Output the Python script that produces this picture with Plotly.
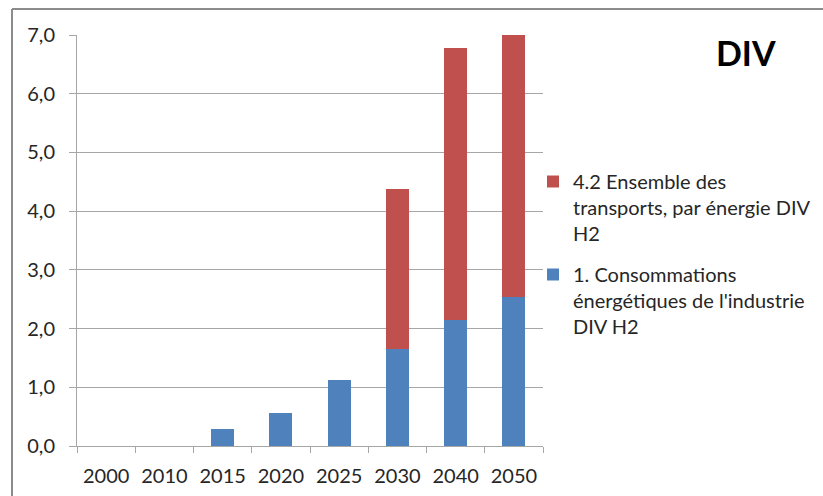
import plotly.graph_objects as go

# Hydrogen (DIV H2) consumption by sector
years = ["2000", "2010", "2015", "2020", "2025", "2030", "2040", "2050"]
industrie = [0, 0, 0.29, 0.57, 1.12, 1.66, 2.15, 2.53]
transports = [0, 0, 0, 0, 0, 2.72, 4.63, 4.47]

name_industrie = "1. Consommations<br>énergétiques de l'industrie<br>DIV H2"
name_transports = "4.2 Ensemble des<br>transports, par énergie DIV<br>H2"

BLUE = "#4F81BD"
RED = "#C0504D"
GRID = "#a6a6a6"
TEXT = "#262626"
FONT = "Lato"

fig = go.Figure()
fig.add_trace(go.Bar(x=years, y=industrie, name=name_industrie,
                     legendgroup="industrie", legendrank=2,
                     marker=dict(color=BLUE, line=dict(width=0))))
fig.add_trace(go.Bar(x=years, y=transports, name=name_transports,
                     legendgroup="transports", legendrank=1,
                     marker=dict(color=RED, line=dict(width=0))))

# plot area in pixels: x 77..543, y 35..446
L, R, T, B = 77, 823 - 543, 35, 496 - 446
W, H = 823 - L - R, 496 - T - B

def px(x):
    return (x - L) / W

def py(y):
    return (496 - B - y) / H

fig.update_layout(
    width=823, height=496,
    margin=dict(l=L, r=R, t=T, b=B, pad=0, autoexpand=False),
    paper_bgcolor="white", plot_bgcolor="white",
    barmode="stack", bargap=0.605,
    separators=", ",
    font=dict(family=FONT, size=20, color=TEXT),
    showlegend=True,
    legend=dict(
        x=px(533), y=py(162), xanchor="left", yanchor="top",
        traceorder="grouped", valign="top",
        font=dict(family=FONT, size=20, color=TEXT),
        tracegroupgap=12, itemwidth=30,
        bgcolor="rgba(0,0,0,0)",
    ),
    xaxis=dict(
        type="category", showgrid=False, automargin=False,
        showline=True, linecolor=GRID, linewidth=1,
        ticks="outside", tickson="boundaries", ticklen=6, tickcolor=GRID,
        tickangle=0,
        tickfont=dict(family=FONT, size=20, color=TEXT),
        ticklabelstandoff=12,
    ),
    yaxis=dict(
        range=[0, 7], dtick=1, tickformat=".1f", automargin=False,
        showgrid=True, gridcolor=GRID, gridwidth=1,
        showline=True, linecolor=GRID, linewidth=1,
        ticks="outside", ticklen=7, tickcolor=GRID,
        tickfont=dict(family=FONT, size=20, color=TEXT),
        ticklabelstandoff=10, zeroline=False,
    ),
    annotations=[dict(
        text="<b>DIV</b>", xref="paper", yref="paper",
        x=px(746), y=py(53), xanchor="center", yanchor="middle",
        showarrow=False, font=dict(family=FONT, size=34, color="black"),
    )],
    shapes=[
        dict(type="line", xref="paper", yref="paper",
             x0=px(12), x1=px(12), y0=py(500), y1=py(9),
             line=dict(color="#8c8c8c", width=2)),
        dict(type="line", xref="paper", yref="paper",
             x0=px(12), x1=px(830), y0=py(9), y1=py(9),
             line=dict(color="#8c8c8c", width=2)),
    ],
)

fig.write_html("out.html")
